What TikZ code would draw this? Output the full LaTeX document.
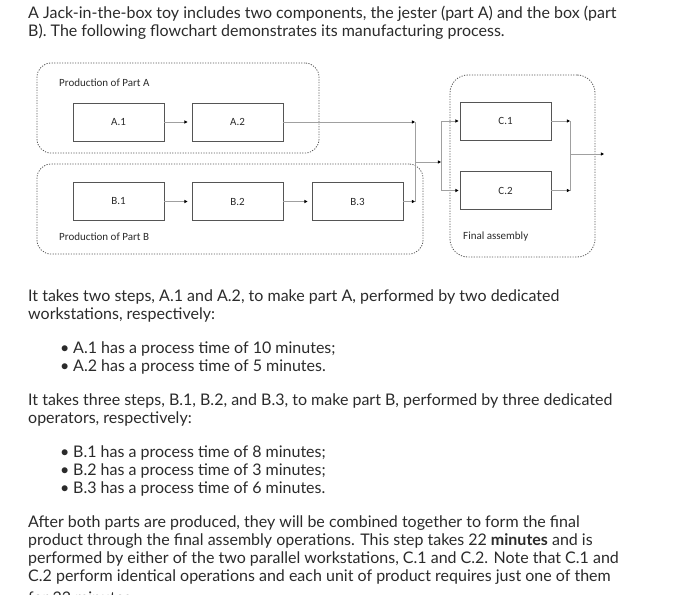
\documentclass[tikz,border=0pt]{standalone}
\usepackage{fontspec}
\setmainfont{Lato}
\newfontfamily\diagfont{Carlito}
\usetikzlibrary{arrows.meta}
\definecolor{txt}{HTML}{2B2B2B}
\definecolor{boxline}{HTML}{555555}
\definecolor{conline}{HTML}{A0A0A0}
\definecolor{dotline}{HTML}{5A5A5A}
\begin{document}
\begin{tikzpicture}[x=1pt,y=-1pt,
  stepbox/.style={draw=boxline,line width=0.9pt,minimum width=91pt,minimum height=38pt,inner sep=0pt,
    font=\diagfont\fontsize{11}{13}\selectfont,text=txt},
  group/.style={draw=dotline,line width=0.8pt,dash pattern=on 1.2pt off 1.4pt,rounded corners=14pt,inner sep=0pt},
  glabel/.style={anchor=west,inner sep=0pt,font=\diagfont\fontsize{11}{13}\selectfont,text=txt},
  conn/.style={draw=conline,line width=0.9pt},
  arr/.style={conn,-{Triangle[length=3.2pt,width=3.2pt,color=black]}},
  para/.style={anchor=base west,inner sep=0pt,font=\fontsize{16}{19}\selectfont,text=txt},
  bul/.style={anchor=base west,inner sep=0pt,font=\fontsize{16}{19}\selectfont,text=txt}
]
\useasboundingbox (0,0) rectangle (700,594);
\clip (0,0) rectangle (700,594);
\fill[white] (0,0) rectangle (700,594);

% intro text
\node[para] (t1) at (28,18.5) {A Jack-in-the-box toy includes two components, the jester (part A) and the box (part};
\node[para] (t2) at (28,36.8) {B). The following flowchart demonstrates its manufacturing process.};

% groups
\node[group,minimum width=282pt,minimum height=90pt] (GA) at (178,108) {};
\node[group,minimum width=386pt,minimum height=90pt] (GB) at (230,209) {};
\node[group,minimum width=145pt,minimum height=182pt,rounded corners=18pt] (GC) at (522.5,166) {};
\node[glabel] (lA) at (59,83) {Production of Part A};
\node[glabel] (lB) at (59,237) {Production of Part B};
\node[glabel] (lC) at (463,237) {Final assembly};

% steps
\node[stepbox] (A1) at (118.5,122) {A.1};
\node[stepbox] (A2) at (237.5,122) {A.2};
\node[stepbox] (B1) at (118.5,201.5) {B.1};
\node[stepbox] (B2) at (237.5,201.5) {B.2};
\node[stepbox] (B3) at (357.5,201.5) {B.3};
\node[stepbox] (C1) at (505.5,121) {C.1};
\node[stepbox] (C2) at (505.5,190.5) {C.2};

% junction coordinates
\coordinate (jA) at (415,122);
\coordinate (jB) at (415,201.5);
\coordinate (jM) at (415,162);
\coordinate (fM) at (441,162);
\coordinate (f1) at (441,121);
\coordinate (f2) at (441,190.5);
\coordinate (o1) at (570,121);
\coordinate (o2) at (570,190.5);
\coordinate (oM) at (570,154);
\coordinate (out) at (604,154);

% connectors
\draw[arr,shorten >=4pt] (A1.east) -- (A2.west);
\draw[arr,shorten >=4pt] (B1.east) -- (B2.west);
\draw[arr,shorten >=4pt] (B2.east) -- (B3.west);
\draw[arr] (A2.east) -- (jA);
\draw[arr] (B3.east) -- (jB);
\draw[conn] (jA) -- (jB);
\draw[arr] (jM) -- (fM);
\draw[conn] (f1) -- (f2);
\draw[arr,shorten >=1pt] (f1) -- (C1.west);
\draw[arr,shorten >=1pt] (f2) -- (C2.west);
\draw[arr] (C1.east) -- (o1);
\draw[arr] (C2.east) -- (o2);
\draw[conn] (o1) -- (o2);
\draw[arr] (oM) -- (out);

% body text
\node[para] (p1) at (28,301) {It takes two steps, A.1 and A.2, to make part A, performed by two dedicated};
\node[para] (p2) at (28,319.3) {workstations, respectively:};
\node[bul] (b1d) at (60,353) {•};
\node[bul] (b1) at (73,353) {A.1 has a process time of 10 minutes;};
\node[bul] (b2d) at (60,371.3) {•};
\node[bul] (b2) at (73,371.3) {A.2 has a process time of 5 minutes.};

\node[para] (p3) at (28,405) {It takes three steps, B.1, B.2, and B.3, to make part B, performed by three dedicated};
\node[para] (p4) at (28,423.3) {operators, respectively:};
\node[bul] (b3d) at (60,457) {•};
\node[bul] (b3) at (73,457) {B.1 has a process time of 8 minutes;};
\node[bul] (b4d) at (60,475.3) {•};
\node[bul] (b4) at (73,475.3) {B.2 has a process time of 3 minutes;};
\node[bul] (b5d) at (60,493.6) {•};
\node[bul] (b5) at (73,493.6) {B.3 has a process time of 6 minutes.};

\node[para] (p5) at (28,527) {After both parts are produced, they will be combined together to form the final};
\node[para] (p6) at (28,545.3) {product through the final assembly operations. This step takes 22 \textbf{minutes} and is};
\node[para] (p7) at (28,563.6) {performed by either of the two parallel workstations, C.1 and C.2. Note that C.1 and};
\node[para] (p8) at (28,581.9) {C.2 perform identical operations and each unit of product requires just one of them};
\node[para] (p9) at (28,603) {for 22 minutes.};
\end{tikzpicture}
\end{document}
